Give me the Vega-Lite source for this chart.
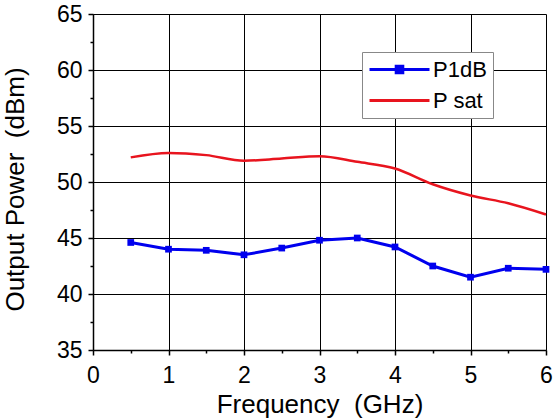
{
  "$schema": "https://vega.github.io/schema/vega-lite/v6.json",
  "width": 453,
  "height": 336,
  "autosize": {"type": "none"},
  "padding": {"left": 93, "top": 14, "right": 8, "bottom": 69},
  "background": "white",
  "config": {"font": "Liberation Sans", "view": {"stroke": null}},
  "data": {
    "values": [
      {"freq": 0.5, "series": "P1dB", "power": 44.6},
      {"freq": 1.0, "series": "P1dB", "power": 44.0},
      {"freq": 1.5, "series": "P1dB", "power": 43.9},
      {"freq": 2.0, "series": "P1dB", "power": 43.5},
      {"freq": 2.5, "series": "P1dB", "power": 44.1},
      {"freq": 3.0, "series": "P1dB", "power": 44.8},
      {"freq": 3.5, "series": "P1dB", "power": 45.0},
      {"freq": 4.0, "series": "P1dB", "power": 44.2},
      {"freq": 4.5, "series": "P1dB", "power": 42.5},
      {"freq": 5.0, "series": "P1dB", "power": 41.5},
      {"freq": 5.5, "series": "P1dB", "power": 42.3},
      {"freq": 6.0, "series": "P1dB", "power": 42.2},
      {"freq": 0.5, "series": "P sat", "power": 52.2},
      {"freq": 1.0, "series": "P sat", "power": 52.6},
      {"freq": 1.5, "series": "P sat", "power": 52.4},
      {"freq": 2.0, "series": "P sat", "power": 51.9},
      {"freq": 2.5, "series": "P sat", "power": 52.1},
      {"freq": 3.0, "series": "P sat", "power": 52.3},
      {"freq": 3.5, "series": "P sat", "power": 51.8},
      {"freq": 4.0, "series": "P sat", "power": 51.2},
      {"freq": 4.5, "series": "P sat", "power": 49.8},
      {"freq": 5.0, "series": "P sat", "power": 48.8},
      {"freq": 5.5, "series": "P sat", "power": 48.1},
      {"freq": 6.0, "series": "P sat", "power": 47.1}
    ]
  },
  "encoding": {
    "x": {
      "field": "freq",
      "type": "quantitative",
      "scale": {"domain": [0, 6], "nice": false, "zero": false},
      "axis": {
        "title": "Frequency\u00a0 (GHz)",
        "titleFontSize": 26,
        "titleFontWeight": "normal",
        "titleColor": "black",
        "titlePadding": 4,
        "values": [0, 0.5, 1, 1.5, 2, 2.5, 3, 3.5, 4, 4.5, 5, 5.5, 6],
        "labelExpr": "datum.value % 1 === 0 ? format(datum.value, 'd') : ''",
        "labelFontSize": 23,
        "labelColor": "black",
        "labelPadding": 9,
        "labelFlush": false,
        "labelOverlap": false,
        "domainColor": "black",
        "domainWidth": 1.5,
        "tickColor": "black",
        "tickWidth": 1.5,
        "tickSize": {"condition": {"test": "datum.value % 1 === 0", "value": 5}, "value": 3},
        "grid": true,
        "gridColor": "black",
        "gridWidth": 1,
        "gridOpacity": {"condition": {"test": "datum.value % 1 === 0", "value": 1}, "value": 0}
      }
    },
    "y": {
      "field": "power",
      "type": "quantitative",
      "scale": {"domain": [35, 65], "nice": false, "zero": false},
      "axis": {
        "title": "Output Power\u00a0 (dBm)",
        "titleFontSize": 26,
        "titleFontWeight": "normal",
        "titleColor": "black",
        "titlePadding": 28,
        "titleY": 175,
        "values": [35, 37.5, 40, 42.5, 45, 47.5, 50, 52.5, 55, 57.5, 60, 62.5, 65],
        "labelExpr": "datum.value % 5 === 0 ? format(datum.value, 'd') : ''",
        "labelFontSize": 23,
        "labelColor": "black",
        "labelPadding": 6,
        "labelFlush": false,
        "labelOverlap": false,
        "domainColor": "black",
        "domainWidth": 1.5,
        "tickColor": "black",
        "tickWidth": 1.5,
        "tickSize": {"condition": {"test": "datum.value % 5 === 0", "value": 5}, "value": 3},
        "grid": true,
        "gridColor": "black",
        "gridWidth": 1,
        "gridOpacity": {"condition": {"test": "datum.value % 5 === 0", "value": 1}, "value": 0}
      }
    },
    "color": {
      "field": "series",
      "type": "nominal",
      "scale": {"domain": ["P1dB", "P sat"], "range": ["#0000ee", "#e8141e"]},
      "legend": {
        "title": null,
        "orient": "none",
        "legendX": 269,
        "legendY": 38,
        "symbolSize": 400,
        "symbolOffset": 20,
        "symbolStrokeWidth": 3,
        "labelFontSize": 22,
        "labelColor": "black",
        "labelOffset": 22,
        "padding": 6,
        "rowPadding": 8,
        "strokeColor": "#888888",
        "fillColor": "white",
        "cornerRadius": 0,
        "encode": {
          "symbols": {
            "update": {
              "shape": {"signal": "datum.value === 'P1dB' ? 'M-3,0H3M-0.33,-0.33H0.33V0.33H-0.33Z' : 'M-3,0H3'"},
              "fill": {"signal": "datum.value === 'P1dB' ? '#0000ee' : 'transparent'"}
            }
          }
        }
      }
    }
  },
  "layer": [
    {
      "transform": [{"filter": "datum.series === 'P sat'"}],
      "mark": {"type": "line", "interpolate": "monotone", "strokeWidth": 2.5}
    },
    {
      "transform": [{"filter": "datum.series === 'P1dB'"}],
      "mark": {"type": "line", "strokeWidth": 3, "point": {"shape": "square", "size": 45, "filled": true, "opacity": 1}}
    }
  ]
}
